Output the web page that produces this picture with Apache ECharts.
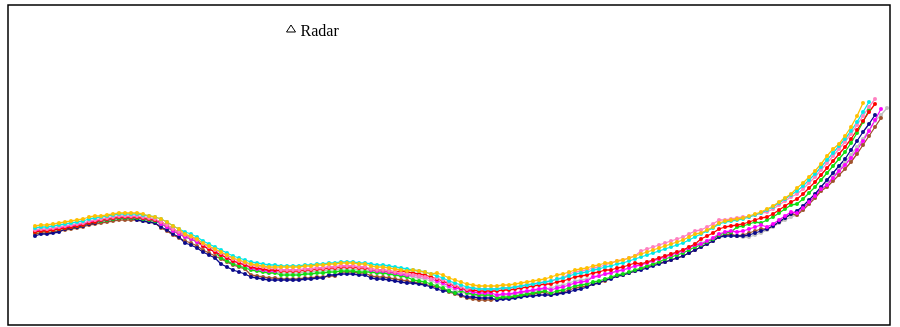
<!DOCTYPE html>
<html>
<head>
<meta charset="utf-8">
<script src="https://cdn.jsdelivr.net/npm/echarts@6/dist/echarts.min.js"></script>
<style>
  html, body { margin: 0; padding: 0; background: #fff; }
  #chart { width: 900px; height: 327px; }
</style>
</head>
<body>
<div id="chart"></div>
<script>
// Sample profiles, one value per step along the track
const gold = [99,100,100,101,102,103,104,105,106,108,109,
  109,110,111,112,112,112,112,111,
  109,108,106,103,99,96,
  91,89,86,82,79,76,73,70,67,65,63,61,60,59,58,58,
  58,58,58,58,59,59,60,60,61,61,62,62,62,61,61,
  59,58,58,57,56,55,54,
  55,54,53,51,
  52,50,47,45,43,41,40,39,39,39,39,40,40,41,42,43,44,45,46,
  48,50,51,53,55,56,57,59,60,62,
  62,64,65,67,69,71,73,75,77,79,81,83,85,88,91,
  92,95,98,102,104,105,106,107,109,111,113,116,119,123,127,131,
  137,142,148,154,161,
  169,176,181,189,198,209,222];

const cyan = [97,98,98,99,100,101,102,103,104,106,107,108,109,110,111,111,111,111,110,109,
  108,106,103,99,96,93,91,88,84,81,78,75,72,69,67,65,63,62,61,60,
  60,59,59,59,59,60,60,61,61,62,62,63,63,63,62,62,61,60,60,59,
  58,57,56,55,54,53,51,49,47,44,42,40,38,37,36,36,36,36,37,37,
  38,39,40,41,42,43,44,46,47,49,51,52,53,55,56,58,59,61,62,64,
  66,68,70,72,74,76,78,80,82,85,88,91,94,97,101,103,104,105,106,108,
  110,112,115,118,122,126,130,134,139,145,151,158,165,172,179,186,194,203,213,223];

const pink = [95,96,96,97,98,99,100,101,102,104,105,
  106,107,108,109,109,109,109,108,107,106,
  103,100,96,93,90,88,85,81,78,75,72,69,66,64,62,60,59,58,57,57,
  55,55,55,55,56,56,57,57,58,58,59,59,59,58,58,
  56,55,55,54,53,52,51,50,49,48,46,
  47,45,42,40,38,36,
  37,36,36,36,36,37,37,38,39,40,41,42,43,44,46,47,
  51,53,54,55,57,58,60,
  62,64,65,67,69,
  74,76,78,80,82,84,86,88,91,94,
  95,98,101,105,
  105,106,107,108,
  108,110,112,
  113,116,120,124,128,
  131,136,142,148,155,162,169,176,
  183,191,200,209,218,226];

const red = [93,94,94,95,96,97,98,99,100,102,103,
  105,106,107,108,108,108,108,107,106,105,103,100,96,93,90,88,85,
  79,76,73,70,67,64,62,60,58,57,56,55,55,54,54,54,54,55,55,56,
  56,57,57,58,58,58,57,57,56,55,55,54,53,
  54,53,52,51,50,48,46,44,41,39,37,35,
  35,34,34,34,34,35,35,36,37,38,39,40,41,
  41,43,44,46,48,49,50,52,53,55,
  55,57,58,60,62,
  61,63,65,67,69,71,73,75,78,81,
  86,89,92,96,98,99,100,101,103,105,107,
  108,111,115,119,123,
  126,131,137,143,150,157,164,171,
  178,186,195,204,213,221];

const magenta = [94,95,95,96,97,98,99,100,101,103,104,105,106,107,108,108,108,108,107,106,105,
  101,98,94,91,88,86,83,79,76,73,70,67,64,62,60,
  57,56,55,54,54,
  55,55,55,55,56,56,57,57,58,58,59,59,59,58,58,
  55,54,54,53,52,51,50,
  50,49,48,46,44,42,39,37,
  36,34,33,32,32,32,
  30,31,31,32,33,34,35,36,37,
  35,37,38,40,42,43,44,
  48,49,51,52,54,55,57,59,
  60,62,64,66,68,70,72,74,77,80,
  81,84,87,91,93,94,
  93,94,96,98,100,
  98,101,105,109,113,
  112,117,123,129,136,
  140,147,154,
  160,167,175,184,194,205,216];

const green = [93,94,94,95,96,97,98,99,100,102,103,104,105,106,107,107,107,107,106,105,104,
  101,98,94,91,88,86,83,79,76,73,
  67,64,61,59,57,55,54,53,52,52,
  50,50,50,50,51,51,52,52,53,53,54,54,54,53,53,
  53,52,52,51,50,49,48,
  45,44,43,41,39,37,34,32,
  34,32,31,30,30,30,
  27,28,28,29,30,31,32,33,34,
  32,34,35,37,39,40,41,43,44,46,
  48,50,51,53,55,57,59,61,63,
  66,68,70,72,75,78,
  80,83,86,90,92,93,
  98,99,101,103,
  102,105,108,112,116,120,
  121,126,132,138,145,152,159,166,
  173,182,192,203,215];

const brown = [91,92,92,93,94,95,96,97,98,100,101,102,103,104,105,105,105,105,104,103,102,
  97,94,90,87,84,82,79,75,72,69,66,63,60,58,56,
  50,49,48,47,47,46,46,46,46,47,47,48,48,49,49,
  53,53,53,52,52,
  49,48,48,47,46,45,44,43,42,41,39,
  38,36,33,31,29,27,26,25,25,25,
  26,27,27,28,29,30,31,32,33,
  30,32,33,35,37,38,39,41,42,44,
  47,49,50,52,54,56,58,60,62,
  63,65,67,69,72,75,78,81,84,88,90,91,
  89,90,92,94,96,
  96,99,103,107,111,
  110,115,121,127,134,
  138,144,150,
  156,163,171,180,189,198,207];

const navy = [89,
  91,91,92,93,
  96,97,98,99,101,102,
  104,105,106,107,107,107,
  105,104,103,102,
  98,95,91,88,
  82,80,77,73,70,67,
  61,58,55,53,51,
  48,47,46,45,45,
  45,45,45,45,46,46,47,47,
  50,50,51,51,51,50,50,
  47,46,46,45,44,43,42,
  42,41,40,38,36,34,
  34,32,30,28,
  28,27,27,27,
  25,26,26,27,28,29,29,30,30,
  30,31,32,33,35,36,38,41,42,45,46,49,50,52,54,
  55,57,59,61,63,65,67,69,72,75,78,81,84,
  88,89,89,89,89,90,92,94,
  96,99,103,107,111,
  114,119,125,131,138,145,152,159,
  166,175,184,193,201,210];

const silver = [94,95,95,96,97,98,99,100,101,103,104,105,106,107,108,108,108,108,107,106,
  105,103,100,96,93,90,88,85,81,78,75,
  68,65,62,60,58,56,55,54,53,53,
  52,52,52,52,53,53,54,54,55,55,
  56,56,56,55,55,54,53,53,52,51,
  50,49,48,47,46,44,42,40,37,35,
  33,31,30,29,29,29,29,30,30,31,
  32,33,34,35,36,37,39,40,42,44,
  45,46,48,49,51,52,54,55,57,59,
  61,63,65,67,69,71,73,75,78,81,
  82,84,86,89,90,90,
  89,88,88,90,92,95,98,102,105,108,
  110,115,121,127,134,141,148,155,
  163,170,178,186,195,204,210,217];

// Draw order: first entry sits at the bottom
const profiles = [
  { name: 'silver',  color: '#c0c0c0', values: silver },
  { name: 'brown',   color: '#a0522d', values: brown },
  { name: 'navy',    color: '#0a0a8c', values: navy },
  { name: 'green',   color: '#11dd11', values: green },
  { name: 'magenta', color: '#ff00ff', values: magenta },
  { name: 'red',     color: '#ff0000', values: red },
  { name: 'pink',    color: '#ff80c0', values: pink },
  { name: 'cyan',    color: '#00e8e8', values: cyan },
  { name: 'gold',    color: '#ffc000', values: gold }
];

const legendName = 'Radar';

const chart = echarts.init(document.getElementById('chart'), null, { renderer: 'canvas' });

const series = profiles.map(p => ({
  name: p.name,
  type: 'line',
  data: p.values.map((v, i) => [i, v]),
  symbol: 'circle',
  symbolSize: 4,
  showAllSymbol: true,
  lineStyle: { width: 1.3, color: p.color },
  itemStyle: { color: p.color },
  emphasis: { disabled: true },
  z: 2
}));

series.push({
  name: legendName,
  type: 'line',
  data: [],
  symbol: 'triangle',
  itemStyle: { color: '#fff', borderColor: '#000', borderWidth: 1 }
});

chart.setOption({
  animation: false,
  backgroundColor: '#fff',
  grid: {
    left: 8, right: 10, top: 5, bottom: 2,
    show: true,
    borderColor: '#000',
    borderWidth: 1.5,
    backgroundColor: 'transparent'
  },
  legend: {
    data: [{
      name: legendName,
      icon: 'triangle',
      itemStyle: { color: '#fff', borderColor: '#000', borderWidth: 1 }
    }],
    left: 286,
    top: 24,
    padding: 0,
    itemWidth: 9,
    itemHeight: 7,
    selectedMode: false,
    formatter: '{t|{name}}',
    textStyle: {
      fontFamily: 'Liberation Serif',
      fontSize: 16,
      color: '#000',
      rich: {
        t: {
          fontFamily: 'Liberation Serif',
          fontSize: 16,
          color: '#000',
          padding: [7, 0, 0, 0]
        }
      }
    }
  },
  xAxis: {
    type: 'value',
    min: -4.5,
    max: 142.5,
    show: false
  },
  yAxis: {
    type: 'value',
    min: 0,
    max: 320,
    show: false
  },
  series: series
});
</script>
</body>
</html>
